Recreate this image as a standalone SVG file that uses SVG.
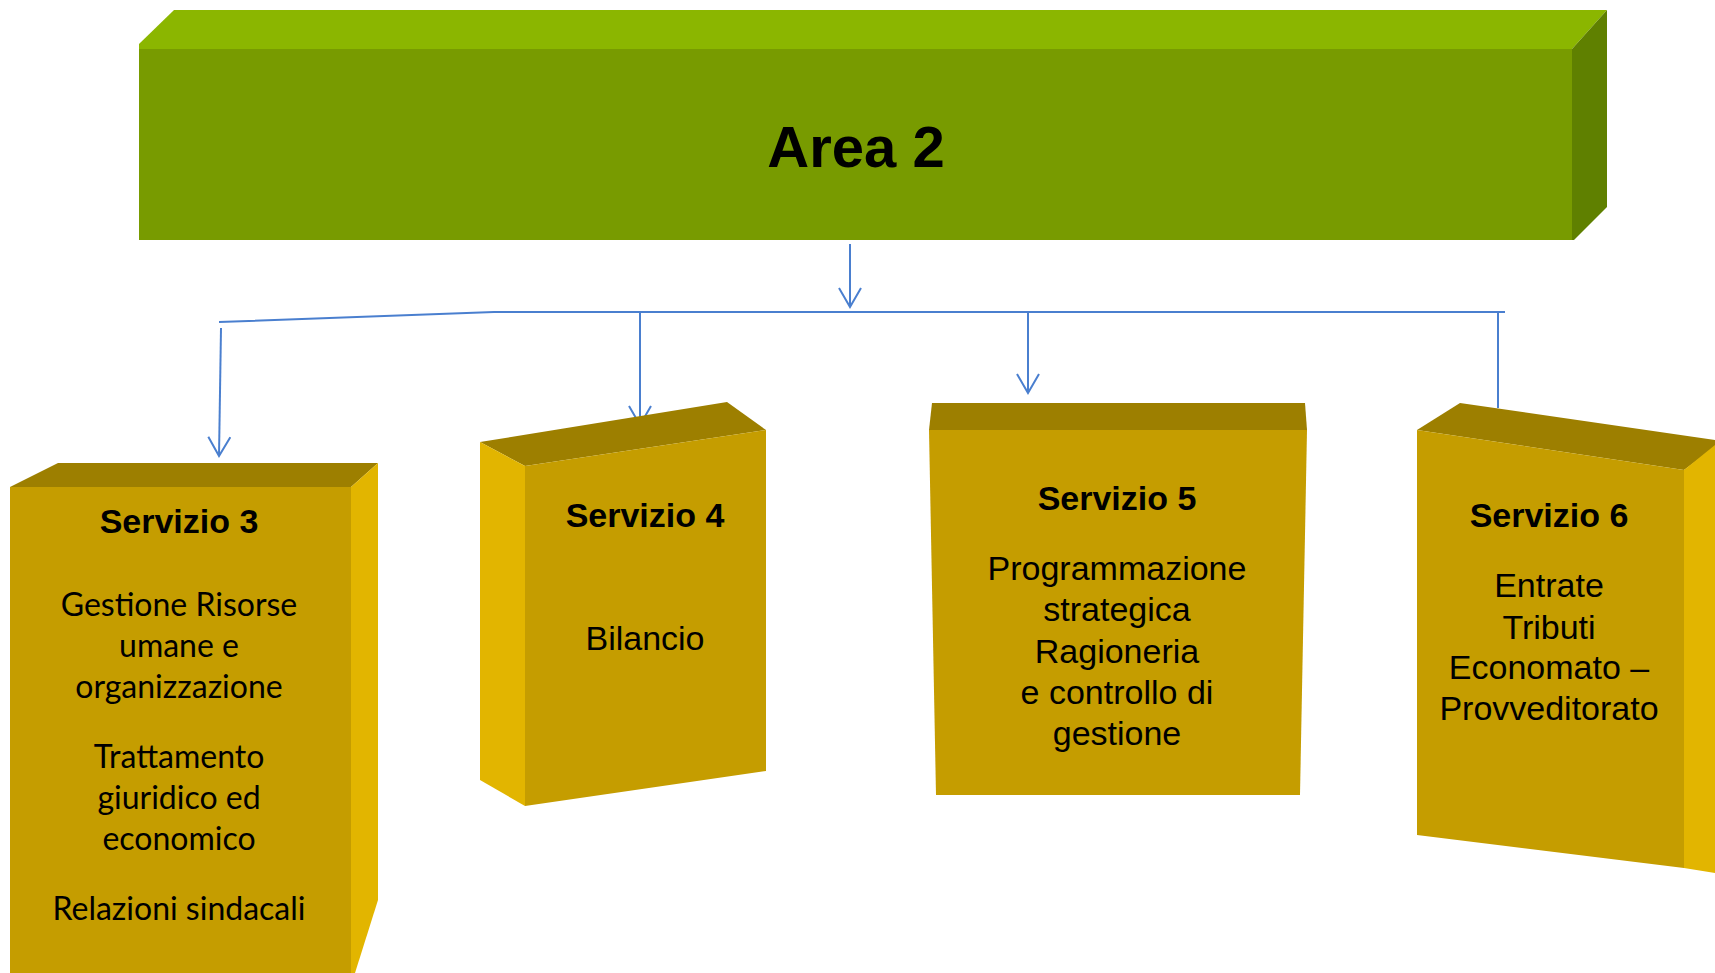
<svg xmlns="http://www.w3.org/2000/svg" width="1715" height="973" viewBox="0 0 1715 973">
<style>
.gtop{fill:#8BB600}.gfront{fill:#789B00}.gside{fill:#5F8000}
.ytop{fill:#9D7F00}.yfront{fill:#C59D00}.yside{fill:#E2B500}
.title{font-family:"Liberation Sans",Arial,sans-serif;font-weight:bold;font-size:34px;fill:#000;text-anchor:middle}
.body{font-family:"Liberation Sans",Arial,sans-serif;font-size:34px;fill:#000;text-anchor:middle}
.cal{font-family:Lato,"Liberation Sans",sans-serif;font-size:32px;fill:#000;text-anchor:middle}
.conn{fill:none;stroke:#4A7FCF;stroke-width:2}
</style>
<defs>
<marker id="arr" markerWidth="24" markerHeight="24" refX="21" refY="12" orient="auto" markerUnits="userSpaceOnUse" viewBox="0 0 24 24">
<path d="M2,1 L21,12 L2,23" fill="none" stroke="#4A7FCF" stroke-width="2"/>
</marker>
</defs>
<rect width="1715" height="973" fill="#fff"/>

<g id="area2">
<polygon class="gtop" points="139,44 174,10 1607,10 1572,49 139,49"/>
<rect class="gfront" x="139" y="49" width="1434" height="191"/>
<polygon class="gside" points="1572,49 1607,10 1607,207 1574,240 1572,240"/>
<text class="title" x="856" y="167" style="font-size:58px">Area 2</text>
</g>

<g id="connectors">
<line class="conn" x1="850" y1="244" x2="850" y2="307" marker-end="url(#arr)"/>
<polyline class="conn" points="219,322 494,312 1505,312"/>
<line class="conn" x1="221" y1="328" x2="219" y2="456" marker-end="url(#arr)"/>
<line class="conn" x1="640" y1="312" x2="640" y2="425" marker-end="url(#arr)"/>
<line class="conn" x1="1028" y1="312" x2="1028" y2="393" marker-end="url(#arr)"/>
<line class="conn" x1="1498" y1="312" x2="1498" y2="408"/>
</g>

<g id="servizio3">
<polygon class="ytop" points="10,487 58,463 378,463 351,487"/>
<rect class="yfront" x="10" y="487" width="341" height="486"/>
<polygon class="yside" points="351,487 378,463 378,900 355,973 351,973"/>
<text class="title" x="179" y="533">Servizio 3</text>
<text class="cal" x="179" y="616">Gestione Risorse</text>
<text class="cal" x="179" y="657">umane e</text>
<text class="cal" x="179" y="698">organizzazione</text>
<text class="cal" x="179" y="768">Trattamento</text>
<text class="cal" x="179" y="809">giuridico ed</text>
<text class="cal" x="179" y="850">economico</text>
<text class="cal" x="179" y="920">Relazioni sindacali</text>
</g>

<g id="servizio4">
<polygon class="ytop" points="480,442 727,402 766,430 525,466"/>
<polygon class="yside" points="480,442 525,466 525,806 480,780"/>
<polygon class="yfront" points="525,466 766,430 766,771 525,806"/>
<text class="title" x="645" y="527">Servizio 4</text>
<text class="body" x="645" y="650">Bilancio</text>
</g>

<g id="servizio5">
<polygon class="ytop" points="932,403 1305,403 1307,430 929,430"/>
<polygon class="yfront" points="929,430 1307,430 1300,795 936,795"/>
<text class="title" x="1117" y="510">Servizio 5</text>
<text class="body" x="1117" y="580">Programmazione</text>
<text class="body" x="1117" y="621">strategica</text>
<text class="body" x="1117" y="663">Ragioneria</text>
<text class="body" x="1117" y="704">e controllo di</text>
<text class="body" x="1117" y="745">gestione</text>
</g>

<g id="servizio6">
<polygon class="ytop" points="1417,430 1460,403 1715,440 1715,447 1684,470"/>
<polygon class="yfront" points="1417,430 1684,470 1684,868 1417,835"/>
<polygon class="yside" points="1684,470 1715,445 1715,873 1684,868"/>
<text class="title" x="1549" y="527">Servizio 6</text>
<text class="body" x="1549" y="597">Entrate</text>
<text class="body" x="1549" y="639">Tributi</text>
<text class="body" x="1549" y="679">Economato –</text>
<text class="body" x="1549" y="720">Provveditorato</text>
</g>
</svg>
